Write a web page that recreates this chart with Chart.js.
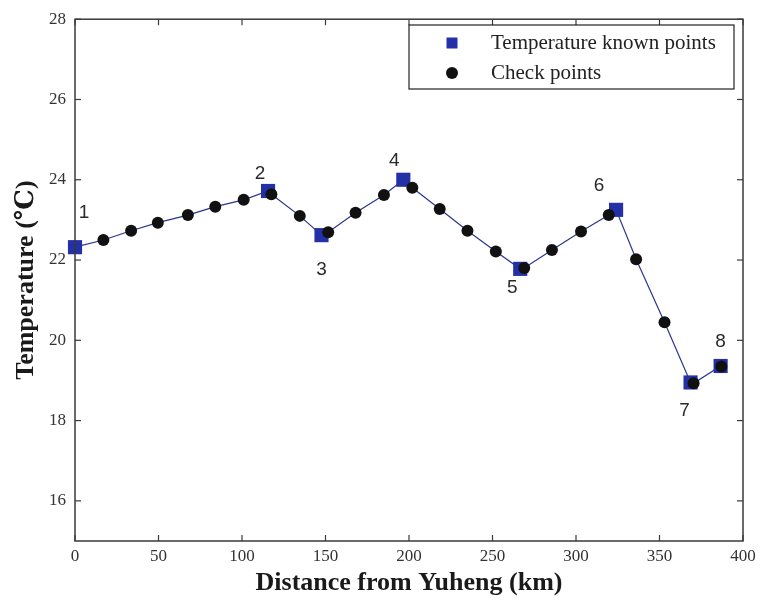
<!DOCTYPE html>
<html><head><meta charset="utf-8">
<script src="https://cdn.jsdelivr.net/npm/chart.js@4"></script>
<style>html,body{margin:0;padding:0;background:#fff}#wrap{width:761px;height:607px;position:relative}</style>
</head><body><div id="wrap"><canvas id="c"></canvas></div>
<script>
const knownX = [0, 115.6, 147.6, 196.6, 266.6, 324, 368.6, 386.6];
const knownY = [22.32, 23.72, 22.62, 24.0, 21.78, 23.25, 18.95, 19.36];
const knownLabels = ['1','2','3','4','5','6','7','8'];
const checkX = [17, 33.6, 49.6, 67.6, 84, 101, 117.6, 134.6, 151.6, 168, 185, 202, 218.4, 235, 252, 269, 285.6, 303, 319.6, 336, 353, 370.4, 387];
const checkY = [22.5, 22.73, 22.93, 23.12, 23.33, 23.5, 23.64, 23.1, 22.69, 23.18, 23.62, 23.8, 23.27, 22.73, 22.21, 21.8, 22.25, 22.71, 23.12, 22.02, 20.45, 18.93, 19.35];
const xTicks = [0, 50, 100, 150, 200, 250, 300, 350, 400];
const yTicks = [16, 18, 20, 22, 24, 26, 28];
const seriesNames = ['Temperature known points', 'Check points'];
const xTitle = 'Distance from Yuheng (km)';
const yTitle = 'Temperature (\u2103)';

// label offsets in px (style)
const labelOffsets = [[9,-34],[-8,-17],[0,35],[-9,-19],[-8,19],[-17,-24],[-6,28],[0,-24]];

const knownPts = knownX.map((x,i)=>({x, y: knownY[i]}));
const checkPts = checkX.map((x,i)=>({x, y: checkY[i]}));
const linePts = knownPts.concat(checkPts).sort((a,b)=>a.x-b.x);

const SQ_COLOR = '#2430a6';
const LINE_COLOR = '#2b3590';
const FRAME = '#3a3a3a';
const SERIF = '"Liberation Serif","DejaVu Serif",serif';

const decor = {
  id: 'decor',
  afterDatasetsDraw(chart) {
    const ctx = chart.ctx, a = chart.chartArea;
    const xs = chart.scales.x, ys = chart.scales.y;
    ctx.save();
    // frame
    ctx.strokeStyle = FRAME; ctx.lineWidth = 1.5;
    ctx.strokeRect(a.left, a.top, a.right - a.left, a.bottom - a.top);
    // inward ticks
    ctx.lineWidth = 1.2;
    const tl = 6;
    xTicks.forEach(v => {
      const px = xs.getPixelForValue(v);
      ctx.beginPath(); ctx.moveTo(px, a.bottom); ctx.lineTo(px, a.bottom - tl); ctx.stroke();
      ctx.beginPath(); ctx.moveTo(px, a.top); ctx.lineTo(px, a.top + tl); ctx.stroke();
    });
    yTicks.forEach(v => {
      const py = ys.getPixelForValue(v);
      ctx.beginPath(); ctx.moveTo(a.left, py); ctx.lineTo(a.left + tl, py); ctx.stroke();
      ctx.beginPath(); ctx.moveTo(a.right, py); ctx.lineTo(a.right - tl, py); ctx.stroke();
    });
    // point number labels
    ctx.fillStyle = '#2a2a2a';
    ctx.font = '19px "Liberation Sans","DejaVu Sans",sans-serif';
    ctx.textAlign = 'center'; ctx.textBaseline = 'middle';
    knownPts.forEach((p,i) => {
      const px = xs.getPixelForValue(p.x), py = ys.getPixelForValue(p.y);
      ctx.fillText(knownLabels[i], px + labelOffsets[i][0], py + labelOffsets[i][1]);
    });
    // legend
    const lx = 409, ly = 25, lw = 325, lh = 64;
    ctx.fillStyle = '#fff';
    ctx.fillRect(lx, ly, lw, lh);
    ctx.strokeStyle = '#222'; ctx.lineWidth = 1.2;
    ctx.strokeRect(lx, ly, lw, lh);
    ctx.fillStyle = SQ_COLOR;
    ctx.fillRect(452 - 5.5, 43 - 5.5, 11, 11);
    ctx.fillStyle = '#111';
    ctx.beginPath(); ctx.arc(452, 73, 6, 0, Math.PI*2); ctx.fill();
    ctx.fillStyle = '#222';
    ctx.font = '21px ' + SERIF;
    ctx.textAlign = 'left';
    ctx.fillText(seriesNames[0], 491, 43);
    ctx.fillText(seriesNames[1], 491, 73);
    ctx.restore();
  }
};

new Chart(document.getElementById('c'), {
  type: 'scatter',
  data: {
    datasets: [
      { label: 'line', data: linePts, showLine: true, borderColor: LINE_COLOR, borderWidth: 1.2, pointRadius: 0, order: 3, clip: false },
      { label: seriesNames[0], data: knownPts, pointStyle: 'rect', pointRadius: 10, backgroundColor: SQ_COLOR, borderColor: SQ_COLOR, borderWidth: 0, order: 2, clip: false },
      { label: seriesNames[1], data: checkPts, pointStyle: 'circle', pointRadius: 6, backgroundColor: '#111', borderColor: '#111', borderWidth: 0, order: 1, clip: false }
    ]
  },
  options: {
    responsive: true, maintainAspectRatio: false, animation: false,
    layout: { padding: { left: 0, top: 15, right: 18, bottom: 0 } },
    plugins: { legend: { display: false }, tooltip: { enabled: false } },
    scales: {
      x: {
        type: 'linear', min: 0, max: 400,
        afterBuildTicks: s => { s.ticks = xTicks.map(v => ({ value: v })); },
        afterFit: s => { s.height = 66; },
        grid: { display: false, drawTicks: false },
        border: { display: false },
        ticks: { color: '#333', padding: 5, font: { family: SERIF, size: 17 } },
        title: { display: true, text: xTitle, color: '#1a1a1a', padding: { top: 0, bottom: 8 }, font: { family: SERIF, size: 26, weight: 'bold' } }
      },
      y: {
        type: 'linear', min: 15, max: 28,
        afterBuildTicks: s => { s.ticks = yTicks.map(v => ({ value: v })); },
        afterFit: s => { s.width = 75; },
        grid: { display: false, drawTicks: false },
        border: { display: false },
        ticks: { color: '#333', padding: 9, font: { family: SERIF, size: 17 } },
        title: { display: true, text: yTitle, color: '#1a1a1a', padding: { top: 11, bottom: 0 }, font: { family: SERIF, size: 26, weight: 'bold' } }
      }
    }
  },
  plugins: [decor]
});
</script></body></html>
